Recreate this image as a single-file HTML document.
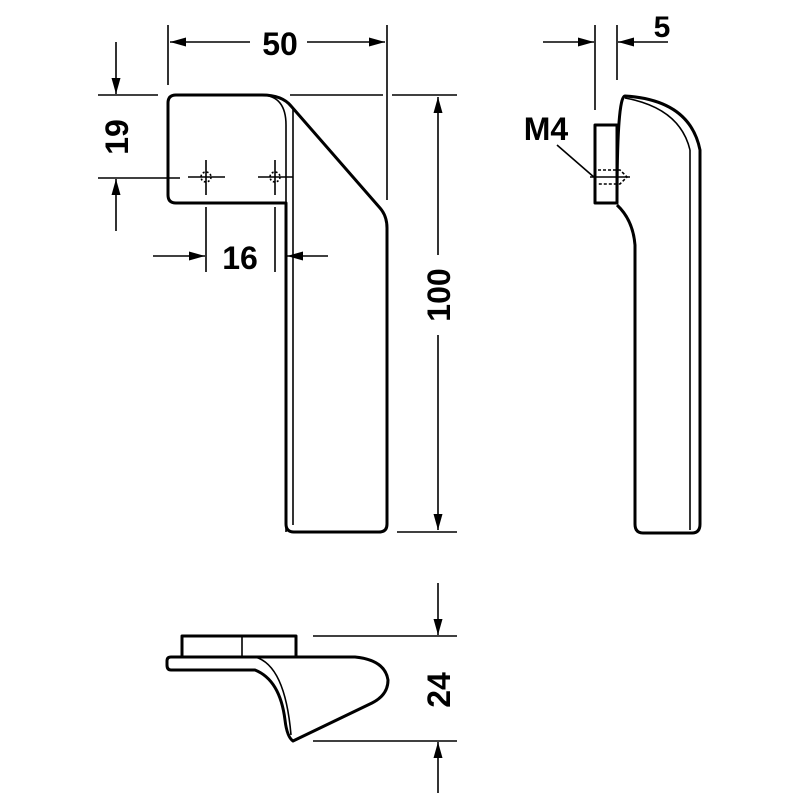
<!DOCTYPE html>
<html><head><style>body{margin:0;background:#fff}svg{display:block}text{font-family:"Liberation Sans",sans-serif;font-weight:bold;fill:#000}</style></head>
<body>
<svg width="800" height="800" viewBox="0 0 800 800" xmlns="http://www.w3.org/2000/svg">
<defs>
<marker id="a" viewBox="0 0 16 9" refX="16" refY="4.5" markerWidth="16" markerHeight="9" orient="auto" markerUnits="userSpaceOnUse"><path d="M0,0 L16,4.5 L0,9z"/></marker>
</defs>
<g fill="none" stroke="#000" stroke-width="1.6">
<!-- dim 50 -->
<line x1="168" y1="25" x2="168" y2="85"/>
<line x1="387" y1="25" x2="387" y2="200"/>
<line x1="250" y1="42" x2="170" y2="42" marker-end="url(#a)"/>
<line x1="307" y1="42" x2="385" y2="42" marker-end="url(#a)"/>
<!-- dim 19 -->
<line x1="98" y1="95" x2="158" y2="95"/>
<line x1="98" y1="178" x2="180" y2="178"/>
<line x1="116" y1="42" x2="116" y2="94" marker-end="url(#a)"/>
<line x1="116" y1="231" x2="116" y2="179" marker-end="url(#a)"/>
<!-- holes -->
<line x1="188" y1="177" x2="225" y2="177"/><line x1="206" y1="160" x2="206" y2="195"/>
<line x1="258" y1="177" x2="293" y2="177"/><line x1="275" y1="160" x2="275" y2="195"/>
<circle cx="206" cy="177" r="5" stroke-dasharray="2 2"/>
<circle cx="275" cy="177" r="5" stroke-dasharray="2 2"/>
<!-- dim 16 -->
<line x1="206" y1="207" x2="206" y2="272"/>
<line x1="275" y1="207" x2="275" y2="272"/>
<line x1="153" y1="256" x2="205" y2="256" marker-end="url(#a)"/>
<line x1="328" y1="256" x2="287" y2="256" marker-end="url(#a)"/>
<!-- dim 100 -->
<line x1="290" y1="95" x2="383" y2="95"/>
<line x1="392" y1="95" x2="457" y2="95"/>
<line x1="397" y1="532" x2="457" y2="532"/>
<line x1="438" y1="255" x2="438" y2="97" marker-end="url(#a)"/>
<line x1="438" y1="335" x2="438" y2="530" marker-end="url(#a)"/>
<!-- dim 5 -->
<line x1="595" y1="25" x2="595" y2="110"/>
<line x1="617" y1="25" x2="617" y2="80"/>
<line x1="543" y1="42" x2="594" y2="42" marker-end="url(#a)"/>
<line x1="668" y1="42" x2="618" y2="42" marker-end="url(#a)"/>
<!-- M4 leader -->
<line x1="557" y1="145" x2="595" y2="178"/>
<line x1="590" y1="177" x2="630" y2="177"/>
<path d="M598,170 H620 L627,177 L620,184 H598" stroke-dasharray="3 2"/>
<!-- dim 24 -->
<line x1="313" y1="636" x2="457" y2="636"/>
<line x1="313" y1="741" x2="457" y2="741"/>
<line x1="438" y1="583" x2="438" y2="635" marker-end="url(#a)"/>
<line x1="438" y1="793" x2="438" y2="742" marker-end="url(#a)"/>
<!-- thin inner lines -->
<path d="M262,95 Q286,96 286,125 V532"/>
<line x1="293" y1="107" x2="293" y2="525"/>
<line x1="690" y1="150" x2="690" y2="530"/>
<path d="M625,98 Q680,108 690,150"/>
<path d="M255,657 Q285,665 291,735"/>
<line x1="242" y1="636" x2="242" y2="657"/>
</g>
<g fill="none" stroke="#000" stroke-width="3" stroke-linejoin="round">
<path d="M176,95 H262 Q282,95 291,106 L380,208 Q387,216 387,228 V524 Q387,532 379,532 H294 Q286,532 286,524 V203 H176 Q168,203 168,195 V103 Q168,95 176,95 Z"/>
<path d="M617,203 Q617,96 625,96 Q690,100 700,150 V524 Q700,533 692,533 H643 Q635,533 635,524 V245 Q633,220 617,205"/>
<rect x="595" y="125" width="22" height="78"/>
<rect x="182" y="636" width="114" height="21"/>
<path d="M171,657 H355 Q385,660 388,680 Q388,695 372,703 L293,741 Q287,737 285,720 Q280,680 255,670 H171 Q167,670 167,665 V661 Q167,657 171,657 Z"/>
</g>
<text x="280" y="55" font-size="32" text-anchor="middle">50</text>
<text x="240" y="269" font-size="32" text-anchor="middle">16</text>
<text x="662" y="37" font-size="30" text-anchor="middle">5</text>
<text x="546" y="140" font-size="32" text-anchor="middle">M4</text>
<text transform="translate(128,137) rotate(-90)" font-size="32" text-anchor="middle">19</text>
<text transform="translate(450,295) rotate(-90)" font-size="32" text-anchor="middle">100</text>
<text transform="translate(450,690) rotate(-90)" font-size="32" text-anchor="middle">24</text>
</svg>
</body></html>
